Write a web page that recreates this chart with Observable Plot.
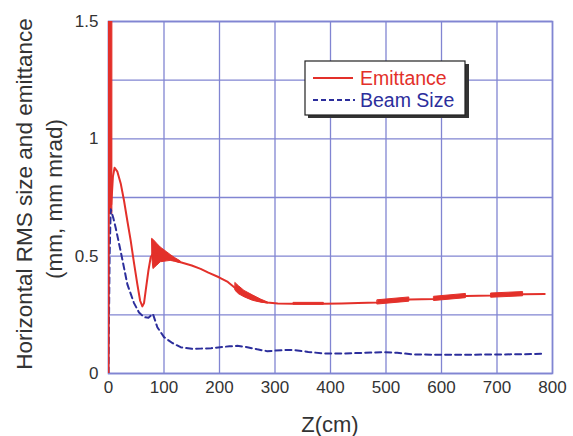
<!DOCTYPE html>
<html>
<head>
<meta charset="utf-8">
<script src="https://cdn.jsdelivr.net/npm/d3@7"></script>
<script src="https://cdn.jsdelivr.net/npm/@observablehq/plot@0.6"></script>
<style>
  html, body { margin: 0; padding: 0; background: #fff; }
  #chart { width: 573px; height: 436px; }
</style>
</head>
<body>
<div id="chart"></div>
<script>
// ---- data ----
const xTicks = [0, 100, 200, 300, 400, 500, 600, 700, 800];
const yTicks = [0, 0.5, 1, 1.5];
const yTickLabels = ["0", "0.5", "1", "1.5"];
const yGrid = [0, 0.25, 0.5, 0.75, 1, 1.25, 1.5];

// Emittance (main line)
const emitZ = [0, 1, 5, 8, 11, 16, 22, 28, 34, 40, 46, 52, 57, 61, 64, 67, 72, 76, 80, 90, 100, 110, 120, 130, 150, 166, 180, 199, 215, 232, 250, 270, 286, 305, 330, 360, 388, 420, 450, 485, 542, 587, 644, 690, 747, 786];
const emitY = [0, 1.5, 0.72, 0.84, 0.877, 0.86, 0.81, 0.736, 0.65, 0.566, 0.47, 0.38, 0.31, 0.286, 0.30, 0.353, 0.44, 0.495, 0.51, 0.505, 0.497, 0.488, 0.481, 0.474, 0.46, 0.446, 0.43, 0.41, 0.39, 0.357, 0.326, 0.31, 0.303, 0.298, 0.297, 0.297, 0.297, 0.298, 0.300, 0.303, 0.315, 0.318, 0.330, 0.332, 0.338, 0.339];

// Emittance oscillation envelopes (thick parts)
const bandSeg = ["a","a", "b","b","b","b","b","b","b","b", "c","c","c","c","c","c", "d","d", "e","e", "f","f", "g","g"];
const bandZ   = [0, 7,   79, 81, 88, 94, 106, 112, 120, 130,   229, 235, 245, 260, 275, 288,   334, 388,   485, 542,   587, 644,   690, 747];
const bandLo  = [0.68, 0.68,   0.49, 0.445, 0.46, 0.474, 0.478, 0.48, 0.476, 0.47,   0.352, 0.338, 0.325, 0.31, 0.302, 0.298,   0.293, 0.293,   0.294, 0.306,   0.309, 0.321,   0.323, 0.329];
const bandHi  = [1.5, 1.5,   0.573, 0.57, 0.552, 0.537, 0.516, 0.505, 0.492, 0.478,   0.385, 0.372, 0.352, 0.333, 0.315, 0.302,   0.301, 0.301,   0.312, 0.324,   0.327, 0.339,   0.341, 0.347];

// Beam size
const beamZ = [0, 2, 4, 9, 13, 22, 34, 46, 55, 64, 72, 80, 88, 100, 115, 130, 150, 166, 185, 201, 218, 232, 250, 268, 286, 298, 315, 334, 360, 389, 420, 460, 497, 520, 551, 600, 647, 700, 740, 780];
const beamY = [0, 0.5, 0.70, 0.66, 0.62, 0.52, 0.38, 0.30, 0.26, 0.24, 0.238, 0.254, 0.197, 0.155, 0.13, 0.112, 0.105, 0.106, 0.108, 0.112, 0.116, 0.118, 0.112, 0.103, 0.095, 0.097, 0.10, 0.10, 0.092, 0.085, 0.085, 0.088, 0.091, 0.088, 0.081, 0.08, 0.080, 0.081, 0.082, 0.084];

const seriesNames = ["Emittance", "Beam Size"];
const xLabel = "Z(cm)";
const yLabel1 = "Horizontal RMS size and emittance";
const yLabel2 = "(mm, mm mrad)";

// ---- build tables ----
const emit = emitZ.map((z, i) => ({z, v: emitY[i]}));
const beam = beamZ.map((z, i) => ({z, v: beamY[i]}));
const bands = bandZ.map((z, i) => ({seg: bandSeg[i], z, lo: bandLo[i], hi: bandHi[i]}));

const RED = "#e3302a";
const BLUE = "#2c2e9c";
const GRID = "#8185d2";
const FONT = "'Liberation Sans', Arial, Helvetica, sans-serif";

const chart = Plot.plot({
  width: 573,
  height: 436,
  marginLeft: 108,
  marginRight: 21,
  marginTop: 21,
  marginBottom: 63,
  style: {fontFamily: FONT, fontSize: "17px", color: "#333", background: "white", overflow: "visible"},
  x: {domain: [0, 800]},
  y: {domain: [0, 1.5]},
  marks: [
    Plot.gridX(xTicks, {stroke: GRID, strokeOpacity: 1, strokeWidth: 1.3}),
    Plot.gridY(yGrid, {stroke: GRID, strokeOpacity: 1, strokeWidth: 1.3}),
    Plot.frame({stroke: GRID, strokeWidth: 1.6}),
    Plot.axisX(xTicks, {tickSize: 0, tickPadding: 7, label: null, fontSize: 17, fill: "#333"}),
    Plot.axisY(yTicks, {tickSize: 0, tickPadding: 10, label: null, fontSize: 17, fill: "#333",
      tickFormat: d => yTickLabels[yTicks.indexOf(d)]}),
    Plot.areaY(bands, {x: "z", y1: "lo", y2: "hi", z: "seg", fill: RED, stroke: RED, strokeWidth: 1, clip: true}),
    Plot.line(beam, {x: "z", y: "v", stroke: BLUE, strokeWidth: 2, strokeDasharray: "6,4", clip: true}),
    Plot.line(emit, {x: "z", y: "v", stroke: RED, strokeWidth: 2, clip: true})
  ]
});

document.getElementById("chart").appendChild(chart);

const svg = d3.select(chart);

// axis titles
svg.append("text")
  .attr("x", 330).attr("y", 432)
  .attr("text-anchor", "middle")
  .attr("font-family", FONT).attr("font-size", 22).attr("fill", "#333")
  .text(xLabel);

svg.append("text")
  .attr("transform", "translate(32,194) rotate(-90)")
  .attr("text-anchor", "middle")
  .attr("font-family", FONT).attr("font-size", 22.5).attr("fill", "#333")
  .text(yLabel1);
svg.append("text")
  .attr("transform", "translate(62,199) rotate(-90)")
  .attr("text-anchor", "middle")
  .attr("font-family", FONT).attr("font-size", 22.5).attr("fill", "#333")
  .text(yLabel2);

// legend
const lg = svg.append("g").attr("text-anchor", "start");
lg.append("rect").attr("x", 308).attr("y", 64).attr("width", 161).attr("height", 54).attr("fill", "#333");
lg.append("rect").attr("x", 305).attr("y", 61).attr("width", 160).attr("height", 54)
  .attr("fill", "white").attr("stroke", "#222").attr("stroke-width", 1.2);
lg.append("line").attr("x1", 313).attr("x2", 353).attr("y1", 78).attr("y2", 78)
  .attr("stroke", RED).attr("stroke-width", 2);
lg.append("line").attr("x1", 313).attr("x2", 355).attr("y1", 100).attr("y2", 100)
  .attr("stroke", BLUE).attr("stroke-width", 2).attr("stroke-dasharray", "5,3");
lg.append("text").attr("x", 360).attr("y", 85).attr("text-anchor", "start")
  .attr("font-family", FONT).attr("font-size", 19.5)
  .attr("fill", RED).text(seriesNames[0]);
lg.append("text").attr("x", 360).attr("y", 107).attr("text-anchor", "start")
  .attr("font-family", FONT).attr("font-size", 19.5)
  .attr("fill", BLUE).text(seriesNames[1]);
</script>
</body>
</html>
